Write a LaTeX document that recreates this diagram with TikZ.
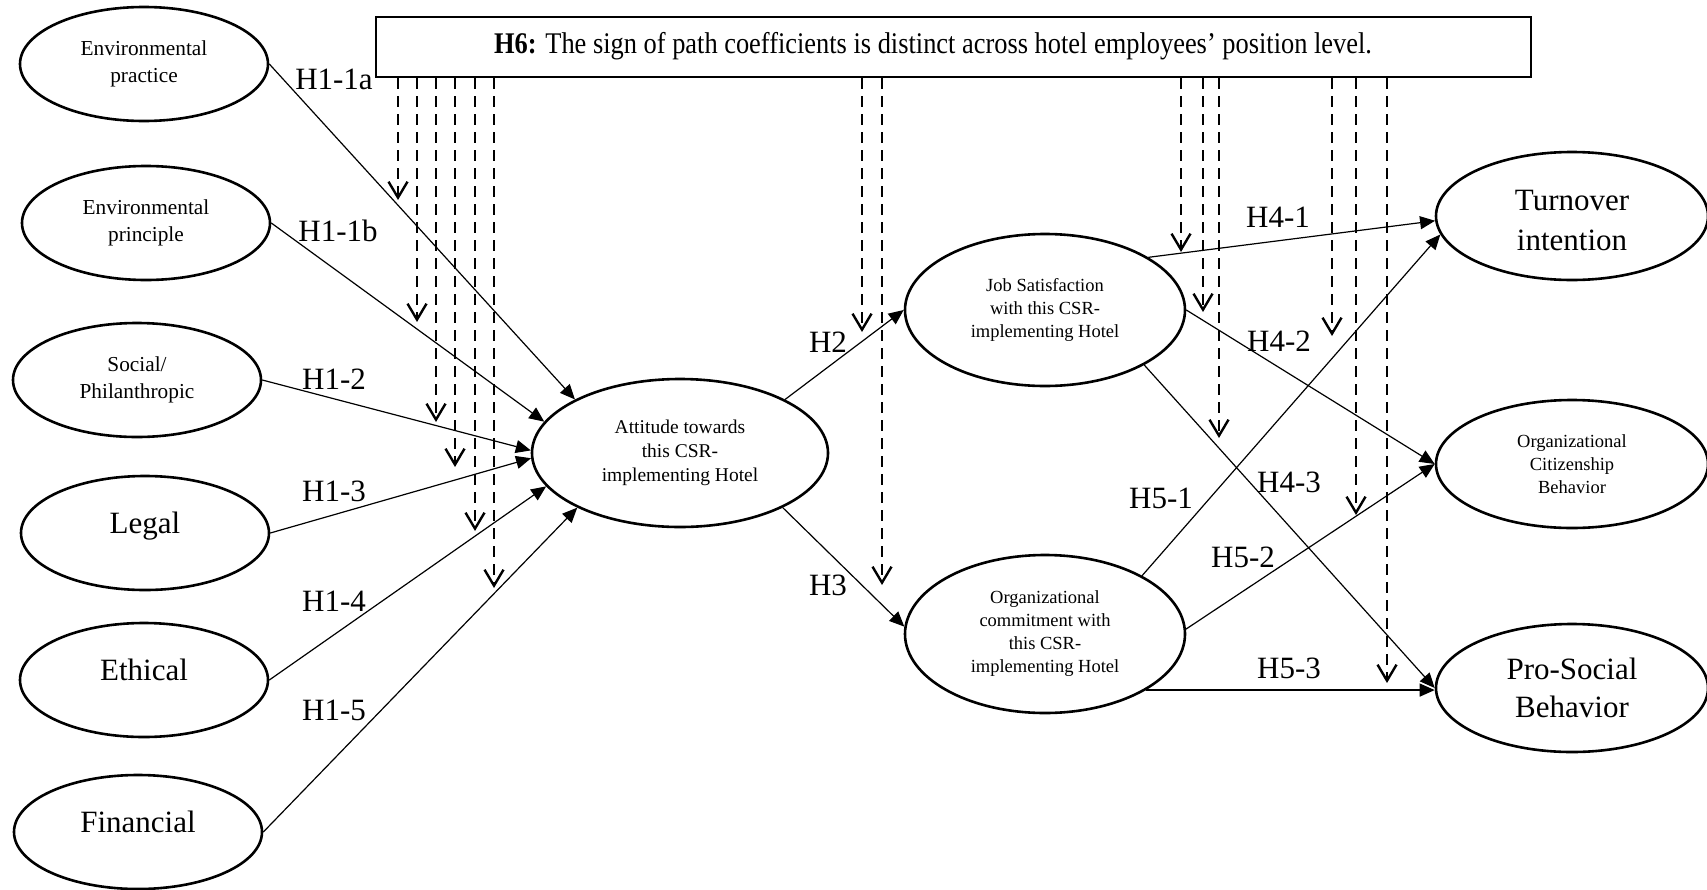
\documentclass[tikz,border=0pt]{standalone}
\usepackage{fontspec}
\usepackage{graphicx}
\setmainfont{Liberation Serif}
\usetikzlibrary{shapes.geometric,arrows.meta}

\newcommand{\lblbig}{\fontsize{31}{38}\selectfont}
\newcommand{\lblmid}{\fontsize{21.3}{27}\selectfont}
\newcommand{\lblsmall}{\fontsize{18.5}{23}\selectfont}

\begin{document}
\begin{tikzpicture}[x=1pt,y=-1pt,
  construct/.style={ellipse, draw, line width=2.6pt, inner sep=0pt, align=center},
  srcnode/.style={construct, minimum width=248pt, minimum height=114pt, font=\lblmid},
  oneword/.style={font=\lblbig, text height=12pt, text depth=12pt},
  outnode/.style={construct, minimum width=272pt, minimum height=128pt, font=\lblbig},
  midnode/.style={construct, minimum width=280pt, font=\lblsmall},
  causal/.style={line width=1.2pt, -{Triangle[length=15pt,width=13pt]}},
  moderate/.style={line width=2.4pt, dash pattern=on 11pt off 7pt,
    -{Straight Barb[length=16pt,width=19pt]}},
  hlabel/.style={font=\lblbig, inner sep=0pt}]

\fill[white] (0,0) rectangle (1707,889);
\useasboundingbox (0,0) rectangle (1707,889);

% CSR dimensions
\node[srcnode] (envp) at (144,64)  {Environmental\\practice};
\node[srcnode] (envr) at (146,223) {Environmental\\principle};
\node[srcnode] (soc)  at (137,380) {Social/\\Philanthropic};
\node[srcnode, oneword] (leg) at (145,533) {Legal};
\node[srcnode, oneword] (eth) at (144,680) {Ethical};
\node[srcnode, oneword] (fin) at (138,832) {Financial};

% mediators
\node[construct, minimum width=296pt, minimum height=148pt,
      font=\fontsize{19.5}{24}\selectfont] (att) at (680,453)
      {Attitude towards\\this CSR-\\implementing Hotel};
\node[midnode, minimum height=152pt] (js) at (1045,310)
      {Job Satisfaction\\with this CSR-\\implementing Hotel};
\node[midnode, minimum height=158pt] (oc) at (1045,634)
      {Organizational\\commitment with\\this CSR-\\implementing Hotel};

% outcomes
\node[outnode, font=\fontsize{31}{40}\selectfont] (tur) at (1572,216)
      {\rule{0pt}{29pt}Turnover\\intention};
\node[outnode, font=\lblsmall] (ocb) at (1572,464) {Organizational\\Citizenship\\Behavior};
\node[outnode] (pro) at (1572,688) {Pro-Social\\Behavior};

% moderation hypothesis box
\node[draw, line width=2.6pt, minimum width=1155pt, minimum height=60pt, inner sep=0pt]
      (h6) at (953.5,47) {};
\node[inner sep=0pt] (h6txt) at (933,46)
      {\scalebox{0.88}[1]{\fontsize{30}{36}\selectfont\textbf{H6:} The sign of path coefficients is distinct across hotel employees’ position level.}};

% moderating effects
\foreach \px/\py [count=\i] in {398/200, 417/322, 436/422, 455/467, 475/531, 494/588,
    862/332, 882/585, 1181/252, 1203/312, 1219/438, 1332/336, 1356/515, 1387/683}{
  \coordinate (m\i) at (\px,\py);
  \draw[moderate] (m\i |- h6.south) -- (m\i);
}

% direct paths
\draw[causal] (envp.east) -- (att.153);
\draw[causal] (envr.east) -- (att.167);
\draw[causal] (soc.east)  -- (att.179);
\draw[causal] (leg.east)  -- (att.182);
\draw[causal] (eth.east)  -- (att.-166);
\draw[causal] (fin.east)  -- (att.-152);

\draw[causal] (att.27)  -- (js.west);
\draw[causal] (att.-28) -- (oc.177);

\draw[causal] (js.27)  -- (tur.182);
\draw[causal] (js.east) -- (ocb.west);
\draw[causal] (js.-29) -- (pro.west);
\draw[causal] (oc.31)  -- (tur.188);
\draw[causal] (oc.2)   -- (ocb.west);
\draw[causal] (oc.-29) -- (oc.-29 -| pro.west);

% hypothesis labels
\node[hlabel] (l11a) at (334,79)  {H1-1a};
\node[hlabel] (l11b) at (338,231) {H1-1b};
\node[hlabel] (l12)  at (334,379) {H1-2};
\node[hlabel] (l13)  at (334,491) {H1-3};
\node[hlabel] (l14)  at (334,601) {H1-4};
\node[hlabel] (l15)  at (334,710) {H1-5};
\node[hlabel] (l2)   at (828,342) {H2};
\node[hlabel] (l3)   at (828,585) {H3};
\node[hlabel] (l41)  at (1278,217) {H4-1};
\node[hlabel] (l42)  at (1279,341) {H4-2};
\node[hlabel] (l43)  at (1289,482) {H4-3};
\node[hlabel] (l51)  at (1161,498) {H5-1};
\node[hlabel] (l52)  at (1243,557) {H5-2};
\node[hlabel] (l53)  at (1289,668) {H5-3};
\end{tikzpicture}
\end{document}
